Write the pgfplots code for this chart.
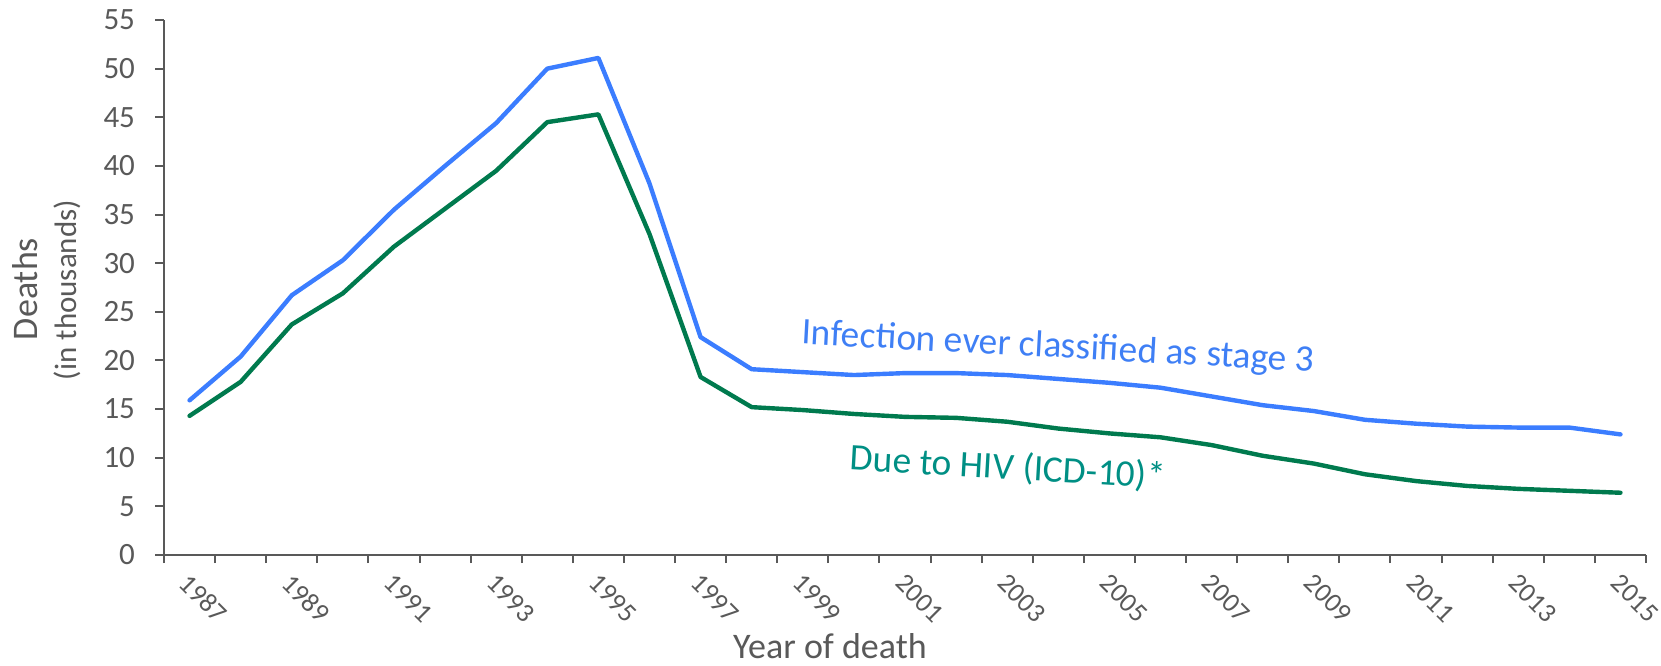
\documentclass[border=0pt]{standalone}
\usepackage{pgfplots}
\pgfplotsset{compat=1.18}
\usepackage{fontspec}
\setmainfont{Carlito}

\definecolor{axgray}{HTML}{595959}
\definecolor{stageblue}{HTML}{3B7DFF}
\definecolor{stagetext}{HTML}{3F7FF5}
\definecolor{hivgreen}{HTML}{007A4E}
\definecolor{hivtext}{HTML}{008F84}

\begin{document}
\begin{tikzpicture}
\begin{axis}[
  at={(82pt,55pt)}, anchor=south west,
  scale only axis,
  width=741pt, height=267.5pt,
  xmin=1986.5, xmax=2015.5,
  ymin=0, ymax=55,
  axis x line*=bottom,
  axis y line*=left,
  axis line style={axgray, line width=1pt},
  tick align=outside,
  xtick={1987,1989,...,2015},
  xticklabels={1987,1989,1991,1993,1995,1997,1999,2001,2003,2005,2007,2009,2011,2013,2015},
  minor xtick={1986.5,1987.5,...,2015.5},
  major x tick style={draw=none},
  minor x tick style={axgray, line width=1pt},
  minor tick length=4pt,
  ytick={0,5,...,55},
  y tick style={axgray, line width=1pt},
  major tick length=4.5pt,
  /pgf/number format/assume math mode=true,
  yticklabel style={font=\fontsize{15.5}{18}\selectfont, text=axgray, xshift=-6.5pt},
  xticklabel style={font=\fontsize{13.5}{16}\selectfont, text=axgray,
                    rotate=-45, anchor=north west, xshift=0pt, yshift=1pt},
  clip=false,
]
\addplot[stageblue, line width=2.2pt, line join=round, line cap=round] coordinates {
  (1987,15.9) (1988,20.4) (1989,26.7) (1990,30.3) (1991,35.5) (1992,40.0)
  (1993,44.4) (1994,50.0) (1995,51.1) (1996,38.2) (1997,22.4) (1998,19.1)
  (1999,18.8) (2000,18.5) (2001,18.7) (2002,18.7) (2003,18.5) (2004,18.1)
  (2005,17.7) (2006,17.2) (2007,16.3) (2008,15.4) (2009,14.8) (2010,13.9)
  (2011,13.5) (2012,13.2) (2013,13.1) (2014,13.1) (2015,12.4)
};
\addplot[hivgreen, line width=2.2pt, line join=round, line cap=round] coordinates {
  (1987,14.3) (1988,17.8) (1989,23.7) (1990,26.9) (1991,31.7) (1992,35.6)
  (1993,39.5) (1994,44.5) (1995,45.3) (1996,33.0) (1997,18.3) (1998,15.2)
  (1999,14.9) (2000,14.5) (2001,14.2) (2002,14.1) (2003,13.7) (2004,13.0)
  (2005,12.5) (2006,12.1) (2007,11.3) (2008,10.2) (2009,9.4) (2010,8.3)
  (2011,7.6) (2012,7.1) (2013,6.8) (2014,6.6) (2015,6.4)
};
\end{axis}

% labels placed in picture coordinates (pt from lower left)
\node[stagetext, font=\fontsize{18.7}{22}\selectfont, rotate=-3.1] at (529pt,158.5pt)
  {Infection ever classified as stage 3};
\node[hivtext, font=\fontsize{18.7}{22}\selectfont, rotate=-3.3] at (504pt,98.5pt)
  {Due to HIV (ICD-10)*};
\node[axgray, font=\fontsize{18}{21}\selectfont, anchor=base, inner sep=0pt] at (415pt,3.5pt)
  {Year of death};
\node[axgray, font=\fontsize{18}{21}\selectfont, rotate=90, anchor=base] at (18.5pt,188pt)
  {Deaths};
\node[axgray, font=\fontsize{15.5}{18}\selectfont, rotate=90, anchor=base] at (38pt,187.5pt)
  {(in thousands)};

\pgfresetboundingbox
\path[use as bounding box] (0,0) rectangle (830.5pt,332.5pt);
\end{tikzpicture}
\end{document}
